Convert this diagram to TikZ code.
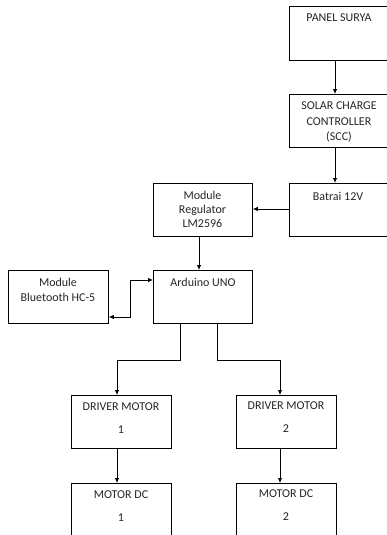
\documentclass[tikz,border=0pt]{standalone}
\usepackage{fontspec}
\setmainfont{Carlito}
\usetikzlibrary{arrows.meta}
\begin{document}
\begin{tikzpicture}[x=1pt,y=-1pt,
  blk/.style={draw=black,line width=0.8pt,rectangle,inner sep=0pt,anchor=north west,minimum width=100pt,minimum height=53pt},
  txt/.style={anchor=base,inner sep=0pt,font=\fontsize{12}{14}\selectfont,text=black!85},
  conn/.style={draw=black,line width=0.8pt},
  arr/.style={conn,-{Latex[length=5pt,width=4.5pt]}},
  barr/.style={conn,{Latex[length=5pt,width=4.5pt]}-{Latex[length=5pt,width=4.5pt]}}]
\useasboundingbox (0,0) rectangle (387,535);
\clip (0,0) rectangle (387,535);
\fill[white] (0,0) rectangle (387,535);
% boxes
\node[blk,minimum height=54pt] (panel) at (289,6) {};
\node[blk] (scc) at (289,94) {};
\node[blk] (bat) at (289,183) {};
\node[blk,minimum width=99pt] (reg) at (153,183) {};
\node[blk,minimum width=99pt] (ard) at (153,270) {};
\node[blk] (bt) at (8,270) {};
\node[blk] (drv1) at (71,395) {};
\node[blk] (drv2) at (236,395) {};
\node[blk,minimum height=60pt] (mot1) at (71,483) {};
\node[blk,minimum height=60pt] (mot2) at (236,483) {};
% texts
\node[txt] (tpanel) at (339,22) {PANEL SURYA};
\node[txt] (tscc1) at (339,109.5) {SOLAR CHARGE};
\node[txt] (tscc2) at (339,125) {CONTROLLER};
\node[txt] (tscc3) at (339,140.5) {(SCC)};
\node[txt] (tbat) at (338,200) {Batrai 12V};
\node[txt] (treg1) at (202.5,199) {Module};
\node[txt] (treg2) at (202.5,213) {Regulator};
\node[txt] (treg3) at (202.5,227) {LM2596};
\node[txt] (tard) at (203,286) {Arduino UNO};
\node[txt] (tbt1) at (58,286.5) {Module};
\node[txt] (tbt2) at (58,301) {Bluetooth HC-5};
\node[txt] (tdrv1a) at (121,410) {DRIVER MOTOR};
\node[txt] (tdrv1b) at (121,433) {1};
\node[txt] (tdrv2a) at (286,409.5) {DRIVER MOTOR};
\node[txt] (tdrv2b) at (286,432.5) {2};
\node[txt] (tmot1a) at (121,498) {MOTOR DC};
\node[txt] (tmot1b) at (121,521.5) {1};
\node[txt] (tmot2a) at (286,497.5) {MOTOR DC};
\node[txt] (tmot2b) at (286,520.5) {2};
% connectors
\coordinate (xs) at (335,0);
\draw[arr] (panel.south -| xs) -- (scc.north -| xs);
\draw[arr] (scc.south -| xs) -- (bat.north -| xs);
\coordinate (yb) at (0,209);
\draw[arr] (bat.west |- yb) -- (reg.east |- yb);
\coordinate (xr) at (199,0);
\draw[arr] (reg.south -| xr) -- (ard.north -| xr);
\coordinate (bend1) at (130,280);
\coordinate (bend2) at (130,317);
\draw[barr] (ard.west |- bend1) -- (bend1) -- (bend2) -- (bt.east |- bend2);
\coordinate (l1) at (180,360);
\coordinate (l2) at (117,360);
\coordinate (r1) at (217,360);
\coordinate (r2) at (280,360);
\draw[arr] (ard.south -| l1) -- (l1) -- (l2) -- (drv1.north -| l2);
\draw[arr] (ard.south -| r1) -- (r1) -- (r2) -- (drv2.north -| r2);
\draw[arr] (drv1.south -| l2) -- (mot1.north -| l2);
\draw[arr] (drv2.south -| r2) -- (mot2.north -| r2);
\end{tikzpicture}
\end{document}
